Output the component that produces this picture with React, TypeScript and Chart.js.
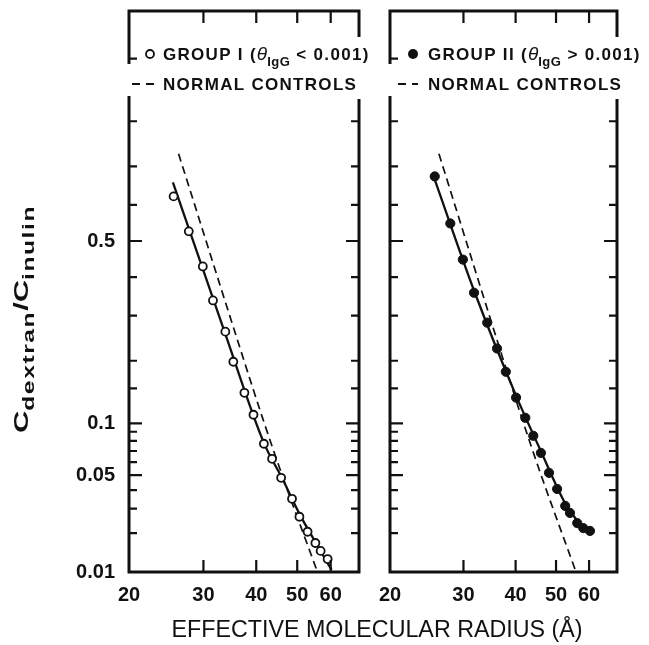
import React, { useEffect, useRef } from 'react';
import { Chart, registerables, Scale } from 'chart.js';

// ---------------- data ----------------
const radiusTicks = [20, 30, 40, 50, 60];
const ratioTicks = [0.01, 0.02, 0.03, 0.04, 0.05, 0.06, 0.07, 0.08, 0.09, 0.1, 0.15, 0.2, 0.3, 0.4, 0.5, 0.6, 0.7, 0.8, 0.9];
const ratioLabels = [0.01, 0.05, 0.1, 0.5];

const groupIRadius = [25.5, 27.7, 29.9, 31.6, 33.8, 35.3, 37.5, 39.4, 41.7, 43.6, 45.8, 48.6, 50.6, 52.9, 55.2, 56.8, 59.0];
const groupIRatio = [0.623, 0.527, 0.429, 0.338, 0.262, 0.198, 0.143, 0.111, 0.0771, 0.0629, 0.048, 0.035, 0.0263, 0.0205, 0.0169, 0.0147, 0.0127];
const groupIFitRadius = [25.4, 33.6, 41.7, 46.0, 50.9, 55.2, 60.3];
const groupIFitRatio = [0.66, 0.264, 0.078, 0.048, 0.0267, 0.0172, 0.0104];

const groupIIRadius = [25.6, 27.9, 29.9, 31.8, 34.2, 36.1, 37.9, 40.1, 42.2, 44.1, 46.0, 48.1, 50.3, 52.6, 54.0, 56.2, 58.1, 60.3];
const groupIIRatio = [0.675, 0.549, 0.448, 0.358, 0.283, 0.225, 0.179, 0.1355, 0.107, 0.0855, 0.0682, 0.0516, 0.0407, 0.0313, 0.028, 0.0237, 0.0218, 0.0208];
const groupIIFitRadius = [25.6, 31.8, 40.1, 46.0, 52.6, 56.4, 60.3];
const groupIIFitRatio = [0.667, 0.364, 0.1385, 0.0698, 0.0326, 0.0244, 0.0208];

const controlRadius = [26.2, 36.7, 41.5, 45.8, 55.6];
const controlRatio = [0.73, 0.223, 0.105, 0.052, 0.0104];

// ---------------- styling ----------------
const INK = '#111111';
const FAMILY = "'Liberation Sans', Arial, Helvetica, sans-serif";

// ---------------- probit scale ----------------
function normCdf(z: number): number {
  const x = Math.abs(z) / Math.SQRT2;
  const t = 1 / (1 + 0.3275911 * x);
  const y = 1 - ((((1.061405429 * t - 1.453152027) * t + 1.421413741) * t - 0.284496736) * t + 0.254829592) * t * Math.exp(-x * x);
  return z >= 0 ? 0.5 * (1 + y) : 0.5 * (1 - y);
}
function probit(p: number): number {
  const a = [-39.69683028665376, 220.9460984245205, -275.9285104469687, 138.357751867269, -30.66479806614716, 2.506628277459239];
  const b = [-54.47609879822406, 161.5858368580409, -155.6989798598866, 66.80131188771972, -13.28068155288572];
  const c = [-0.007784894002430293, -0.3223964580411365, -2.400758277161838, -2.549732539343734, 4.374664141464968, 2.938163982698783];
  const d = [0.007784695709041462, 0.3224671290700398, 2.445134137142996, 3.754408661907416];
  const pl = 0.02425;
  if (p <= 0) return -8;
  if (p >= 1) return 8;
  if (p < pl) {
    const q = Math.sqrt(-2 * Math.log(p));
    return (((((c[0] * q + c[1]) * q + c[2]) * q + c[3]) * q + c[4]) * q + c[5]) / ((((d[0] * q + d[1]) * q + d[2]) * q + d[3]) * q + 1);
  }
  if (p <= 1 - pl) {
    const q = p - 0.5;
    const r = q * q;
    return ((((((a[0] * r + a[1]) * r + a[2]) * r + a[3]) * r + a[4]) * r + a[5]) * q) / (((((b[0] * r + b[1]) * r + b[2]) * r + b[3]) * r + b[4]) * r + 1);
  }
  const q = Math.sqrt(-2 * Math.log(1 - p));
  return -(((((c[0] * q + c[1]) * q + c[2]) * q + c[3]) * q + c[4]) * q + c[5]) / ((((d[0] * q + d[1]) * q + d[2]) * q + d[3]) * q + 1);
}

class ProbitScale extends Scale {
  static id = 'probit';
  static defaults = {};
  determineDataLimits() {
    const { min, max } = (this as any).getUserBounds();
    (this as any).min = Number.isFinite(min) ? min : 0.01;
    (this as any).max = Number.isFinite(max) ? max : 0.99;
  }
  buildTicks() {
    return ratioTicks.map((v) => ({ value: v }));
  }
  getLabelForValue(v: number) {
    return String(v);
  }
  configure() {
    super.configure();
    (this as any)._zmin = probit((this as any).min);
    (this as any)._zmax = probit((this as any).max);
  }
  getPixelForValue(v: number) {
    const s: any = this;
    const z = probit(v);
    return s.getPixelForDecimal((z - s._zmin) / (s._zmax - s._zmin));
  }
  getValueForPixel(px: number) {
    const s: any = this;
    return normCdf(s._zmin + s.getDecimalForPixel(px) * (s._zmax - s._zmin));
  }
  getPixelForTick(i: number) {
    const s: any = this;
    return this.getPixelForValue(s.ticks[i].value);
  }
}

Chart.register(...registerables, ProbitScale as any);

// ---------------- rich text helper ----------------
type Run = { text: string; font: string; dy?: number; spacing?: number };
function runsWidth(ctx: CanvasRenderingContext2D, runs: Run[]) {
  let w = 0;
  for (const r of runs) {
    ctx.font = r.font;
    (ctx as any).letterSpacing = (r.spacing ?? 0) + 'px';
    w += ctx.measureText(r.text).width;
  }
  (ctx as any).letterSpacing = '0px';
  return w;
}
function drawRuns(ctx: CanvasRenderingContext2D, runs: Run[], x: number, y: number, sx = 1) {
  ctx.save();
  ctx.translate(x, y);
  ctx.scale(sx, 1);
  ctx.textAlign = 'left';
  ctx.textBaseline = 'alphabetic';
  let cx = 0;
  for (const r of runs) {
    ctx.font = r.font;
    (ctx as any).letterSpacing = (r.spacing ?? 0) + 'px';
    ctx.fillText(r.text, cx, r.dy ?? 0);
    cx += ctx.measureText(r.text).width;
  }
  (ctx as any).letterSpacing = '0px';
  ctx.restore();
}

// ---------------- decoration plugin ----------------
const decorPlugin = {
  id: 'decor',
  afterDraw(chart: any, _args: any, opts: any) {
    const { ctx, chartArea: a, scales } = chart;
    const xs = scales.x;
    const ys = scales.y;
    ctx.save();
    ctx.strokeStyle = INK;
    ctx.fillStyle = INK;
    // inward tick marks
    ctx.lineWidth = 2.2;
    ctx.beginPath();
    for (const v of radiusTicks) {
      if (v <= xs.min) continue;
      const px = xs.getPixelForValue(v);
      ctx.moveTo(px, a.bottom);
      ctx.lineTo(px, a.bottom - 12);
      ctx.moveTo(px, a.top);
      ctx.lineTo(px, a.top + 12);
    }
    for (const v of ratioTicks) {
      if (v <= ys.min) continue;
      const py = ys.getPixelForValue(v);
      const len = ratioLabels.includes(v) ? 13 : 8;
      ctx.moveTo(a.left, py);
      ctx.lineTo(a.left + len, py);
      ctx.moveTo(a.right, py);
      ctx.lineTo(a.right - len, py);
    }
    ctx.stroke();
    // frame
    ctx.lineWidth = 3;
    ctx.strokeRect(a.left, a.top, a.right - a.left, a.bottom - a.top);

    // legend box (masks the frame behind it)
    const lg = opts.legend;
    const r1 = a.top + 43;
    const r2 = a.top + 73;
    ctx.fillStyle = '#ffffff';
    ctx.fillRect(a.left - 3, a.top + 53, 8, 32);
    ctx.fillRect(a.right - 12, a.top + 26, 16, 62);
    ctx.fillStyle = INK;

    ctx.lineWidth = 1.8;
    ctx.beginPath();
    ctx.arc(a.left + lg.marker, r1, lg.filled ? 5 : 4, 0, Math.PI * 2);
    if (lg.filled) ctx.fill();
    else ctx.stroke();
    const bold = `bold 17px ${FAMILY}`;
    drawRuns(ctx, [
      { text: lg.group + ' (', font: bold, spacing: 1.3 },
      { text: 'θ', font: `italic 19px ${FAMILY}` },
      { text: 'IgG', font: `bold 13px ${FAMILY}`, dy: 6, spacing: 0.5 },
      { text: ' ' + lg.cmp + ' 0.001)', font: bold, spacing: 1.3 },
    ], a.left + lg.text, r1 + 6);
    ctx.lineWidth = 2;
    ctx.setLineDash([8, 6]);
    ctx.beginPath();
    ctx.moveTo(a.left + lg.dash[0], r2);
    ctx.lineTo(a.left + lg.dash[1], r2);
    ctx.stroke();
    ctx.setLineDash([]);
    drawRuns(ctx, [{ text: 'NORMAL CONTROLS', font: bold, spacing: 1.3 }], a.left + lg.text, r2 + 6);

    if (opts.titles) {
      // y title (rotated)
      const yRuns: Run[] = [
        { text: 'C', font: `bold 20px ${FAMILY}` },
        { text: 'dextran', font: `bold 16px ${FAMILY}`, dy: 6, spacing: 1 },
        { text: '/C', font: `bold 20px ${FAMILY}` },
        { text: 'inulin', font: `bold 16px ${FAMILY}`, dy: 6, spacing: 1 },
      ];
      const w = runsWidth(ctx, yRuns);
      ctx.save();
      ctx.translate(28, 433);
      ctx.rotate(-Math.PI / 2);
      drawRuns(ctx, yRuns, 0, 0, 228 / w);
      ctx.restore();
      // x title
      const xRuns: Run[] = [{ text: 'EFFECTIVE MOLECULAR RADIUS (Å)', font: `23px ${FAMILY}` }];
      const xw = runsWidth(ctx, xRuns);
      drawRuns(ctx, xRuns, 377 - 411 / 2, 637, 411 / xw);
    }
    ctx.restore();
  },
};

// ---------------- config ----------------
function pts(xs: number[], ys: number[]) {
  return xs.map((x, i) => ({ x, y: ys[i] }));
}

function zeroPad(s: any) {
  s.paddingTop = 0;
  s.paddingBottom = 0;
  s.paddingLeft = 0;
  s.paddingRight = 0;
}

function makeConfig(side: 'left' | 'right'): any {
  const isLeft = side === 'left';
  const tickFont = { family: FAMILY, size: 20, weight: 'bold' };
  return {
    type: 'line',
    data: {
      datasets: [
        {
          label: isLeft ? 'GROUP I' : 'GROUP II',
          data: isLeft ? pts(groupIRadius, groupIRatio) : pts(groupIIRadius, groupIIRatio),
          showLine: false,
          pointRadius: isLeft ? 4 : 4.6,
          pointBackgroundColor: isLeft ? '#ffffff' : INK,
          pointBorderColor: INK,
          pointBorderWidth: isLeft ? 1.8 : 1,
          borderColor: INK,
        },
        {
          label: 'fit',
          data: isLeft ? pts(groupIFitRadius, groupIFitRatio) : pts(groupIIFitRadius, groupIIFitRatio),
          borderColor: INK,
          borderWidth: 2.3,
          pointRadius: 0,
          cubicInterpolationMode: 'monotone',
          fill: false,
        },
        {
          label: 'NORMAL CONTROLS',
          data: pts(controlRadius, controlRatio),
          borderColor: INK,
          borderWidth: 1.7,
          borderDash: [8, 5],
          pointRadius: 0,
          cubicInterpolationMode: 'monotone',
          fill: false,
        },
      ],
    },
    options: {
      responsive: false,
      animation: false,
      events: [],
      layout: { padding: isLeft ? { left: 0, top: 11, right: 290, bottom: 33 } : { left: 0, top: 11, right: 32, bottom: 33 } },
      plugins: {
        legend: { display: false },
        tooltip: { enabled: false },
        decor: {
          titles: isLeft,
          legend: isLeft
            ? { group: 'GROUP I', cmp: '<', filled: false, marker: 21, text: 34, dash: [3, 26] }
            : { group: 'GROUP II', cmp: '>', filled: true, marker: 23, text: 38, dash: [8, 28] },
        },
      },
      scales: {
        x: {
          type: 'logarithmic',
          min: 20,
          max: 70,
          grid: { display: false, drawTicks: false, tickLength: 0 },
          border: { display: false },
          afterBuildTicks: (s: any) => {
            s.ticks = radiusTicks.map((v) => ({ value: v }));
          },
          afterFit: (s: any) => {
            s.height = 40;
            zeroPad(s);
          },
          ticks: {
            autoSkip: false,
            maxRotation: 0,
            minRotation: 0,
            padding: 11,
            color: INK,
            font: tickFont,
            callback: (v: any) => String(v),
          },
        },
        y: {
          type: 'probit',
          position: 'left',
          min: 0.01,
          max: 0.947,
          grid: { display: false, drawTicks: false, tickLength: 0 },
          border: { display: false },
          afterFit: (s: any) => {
            s.width = isLeft ? 129 : 25;
            zeroPad(s);
          },
          ticks: {
            display: isLeft,
            autoSkip: false,
            padding: 14,
            color: INK,
            font: tickFont,
            callback: (v: any) => (ratioLabels.includes(v) ? String(v) : ''),
          },
        },
      },
    },
    plugins: [decorPlugin],
  };
}

export default function App() {
  const leftRef = useRef<HTMLCanvasElement | null>(null);
  const rightRef = useRef<HTMLCanvasElement | null>(null);
  useEffect(() => {
    const c1 = new Chart(leftRef.current as HTMLCanvasElement, makeConfig('left'));
    const c2 = new Chart(rightRef.current as HTMLCanvasElement, makeConfig('right'));
    return () => {
      c1.destroy();
      c2.destroy();
    };
  }, []);
  return (
    <div style={{ position: 'fixed', left: 0, top: 0, width: 649, height: 645, background: '#ffffff', overflow: 'hidden' }}>
      <canvas ref={leftRef} width={649} height={645} style={{ position: 'absolute', left: 0, top: 0, width: 649, height: 645 }} />
      <canvas ref={rightRef} width={284} height={645} style={{ position: 'absolute', left: 365, top: 0, width: 284, height: 645 }} />
    </div>
  );
}
